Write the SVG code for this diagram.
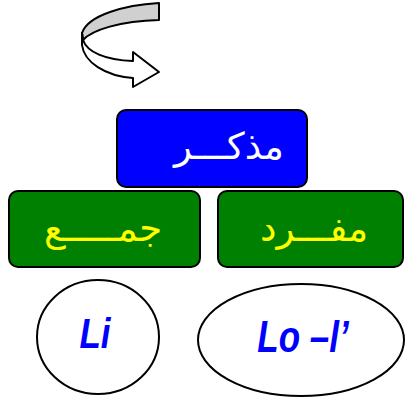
<svg xmlns="http://www.w3.org/2000/svg" width="405" height="398" viewBox="0 0 405 398">
<style>
.box{stroke:#000;stroke-width:2}
.ar{font-family:"DejaVu Sans",sans-serif;font-size:37px;text-anchor:middle}
.lat{font-family:"Liberation Sans",Arial,sans-serif;font-size:35px;font-weight:bold;font-style:italic;fill:#0000FF;text-anchor:middle}
.ell{fill:#fff;stroke:#000;stroke-width:2}
</style>
<rect width="405" height="398" fill="#fff"/>
<g id="arrow" stroke="#000" stroke-width="2" stroke-linejoin="round">
<path d="M159,3 C125,5 88,15 82,33 L83,40 C92,30 120,21 159,20 Z" fill="#D0D0D0"/>
<path d="M82,33 L82,45 C84,62 105,76 133,78 L133,87 L159,72 L133,52 L133,61 C105,60 87,52 83,40 Z" fill="#fff"/>
</g>
<g id="connectors"></g>
<g id="node-mudhakkar">
<rect class="box" x="117" y="110" width="190" height="77" rx="9" fill="#0000FF"/>
<text class="ar" x="229" y="159" fill="#fff">مذكـــر</text>
</g>
<g id="node-jam">
<rect class="box" x="9" y="191" width="191" height="76" rx="9" fill="#008000"/>
<text class="ar" x="103" y="241" fill="#FFFF00">جمـــــع</text>
</g>
<g id="node-mufrad">
<rect class="box" x="218" y="191" width="185" height="76" rx="9" fill="#008000"/>
<text class="ar" x="314" y="241" fill="#FFFF00">مفـــرد</text>
</g>
<g id="node-li">
<ellipse class="ell" cx="98" cy="337" rx="61" ry="57"/>
<text class="lat" transform="translate(95,348) scale(1,1.22)">Li</text>
</g>
<g id="node-lo">
<ellipse class="ell" cx="301" cy="340" rx="103" ry="56"/>
<text class="lat" transform="translate(303,352) scale(1,1.27)">Lo –l’</text>
</g>
</svg>
